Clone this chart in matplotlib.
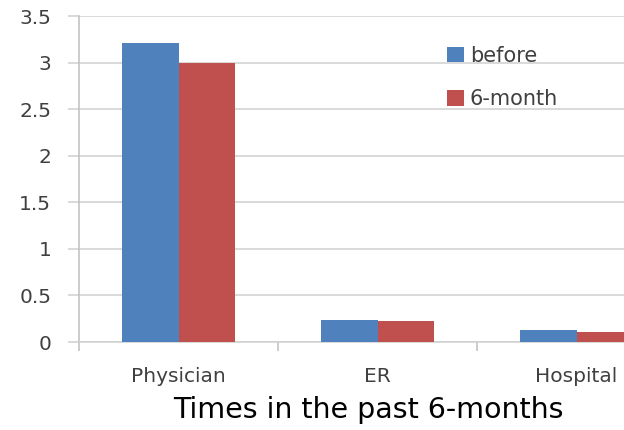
import numpy as np
import matplotlib.pyplot as plt
from matplotlib.ticker import FixedLocator, NullFormatter

# Данные
categories = ['Physician', 'ER', 'Hospital']
before = [3.21, 0.24, 0.13]
six_month = [3.0, 0.23, 0.11]
yticks = [0, 0.5, 1, 1.5, 2, 2.5, 3, 3.5]
ytick_labels = ['0', '0.5', '1', '1.5', '2', '2.5', '3', '3.5']

plt.rcParams['font.family'] = ['DejaVu Sans']

fig = plt.figure(figsize=(6.24, 4.3), dpi=100)
# ось шире рисунка: справа график обрезан, как в оригинале
ax = fig.add_axes([79 / 624, 88 / 430, 597 / 624, 326 / 430])

grey = '#bfbfbf'
x = np.arange(len(categories))
w = 0.283
ax.bar(x - w / 2, before, w, color='#4F81BD', label='before', zorder=3)
ax.bar(x + w / 2, six_month, w, color='#C0504D', label='6-month', zorder=3)

ax.set_xlim(-0.5, len(categories) - 0.5)
ax.set_ylim(0, 3.5)
ax.set_yticks(yticks)
ax.set_yticklabels(ytick_labels)
ax.yaxis.grid(True, color='#d0d0d0', linewidth=1.1, zorder=0)

# деления по границам категорий, подписи по центрам
ax.xaxis.set_major_locator(FixedLocator(np.arange(len(categories) + 1) - 0.5))
ax.xaxis.set_major_formatter(NullFormatter())
ax.xaxis.set_minor_locator(FixedLocator(x))
ax.set_xticklabels(categories, minor=True)
ax.tick_params(axis='x', which='minor', length=0, pad=18, labelsize=14.5, labelcolor='#404040')
ax.tick_params(axis='x', which='major', length=6.5, color=grey, width=1.1)
ax.tick_params(axis='y', length=8, color='#d0d0d0', width=1.1, labelsize=14.5,
               labelcolor='#404040', pad=12)

for s in ['top', 'right']:
    ax.spines[s].set_visible(False)
ax.spines['left'].set_color(grey)
ax.spines['bottom'].set_color('#d0d0d0')
ax.spines['left'].set_linewidth(1.1)
ax.spines['bottom'].set_linewidth(1.1)

fig.text(368 / 624, 1 - 410 / 430, 'Times in the past 6-months', fontsize=20.5,
         color='black', ha='center', va='center')

fig.legend(loc='upper left', bbox_to_anchor=(447 / 624, 1 - 46 / 430),
           bbox_transform=fig.transFigure, frameon=False, fontsize=15,
           handlelength=0.8, handleheight=0.75, handletextpad=0.3,
           labelspacing=1.12, borderpad=0, borderaxespad=0, labelcolor='#404040')

fig.savefig('out.png', dpi=100)
